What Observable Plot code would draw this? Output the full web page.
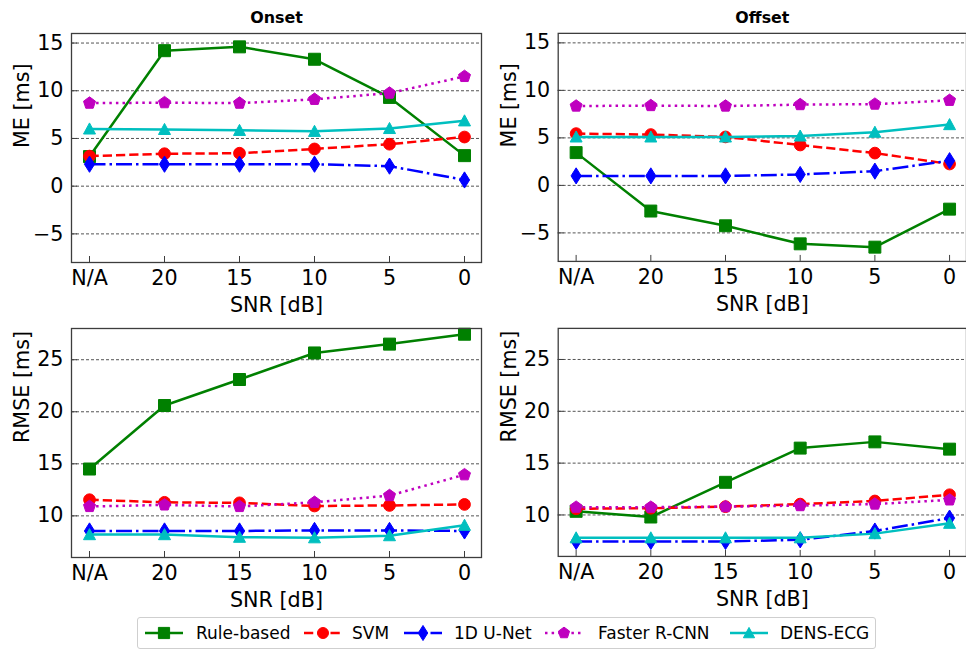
<!DOCTYPE html>
<html><head><meta charset="utf-8">
<script src="https://cdn.jsdelivr.net/npm/d3@7"></script>
<script src="https://cdn.jsdelivr.net/npm/@observablehq/plot@0.6"></script>
<style>
body{margin:0;background:#fff;overflow:hidden;font-family:"DejaVu Sans",sans-serif;}
#root{position:relative;width:966px;height:650px;overflow:hidden;background:#fff;}
.panel{position:absolute;}
#legend{position:absolute;left:137px;top:617px;width:739px;height:32px;border:1px solid #cfcfcf;border-radius:3px;box-sizing:border-box;font-family:"DejaVu Sans",sans-serif;font-size:17px;color:#000;}
#legend .sw{position:absolute;top:5px;}
#legend .tx{position:absolute;top:4px;line-height:22px;white-space:nowrap;}
</style></head>
<body><div id="root"></div>
<script>
// ---- data ----
const snr = ["N/A", "20", "15", "10", "5", "0"];
const methods = ["Rule-based", "SVM", "1D U-Net", "Faster R-CNN", "DENS-ECG"];
// rows follow the order of `methods`, columns follow `snr`
const meOnset = [
  [3.1, 14.2, 14.6, 13.3, 9.3, 3.2],
  [3.15, 3.4, 3.45, 3.9, 4.4, 5.15],
  [2.3, 2.3, 2.3, 2.3, 2.1, 0.65],
  [8.7, 8.75, 8.7, 9.1, 9.75, 11.5],
  [6.0, 5.95, 5.85, 5.75, 6.05, 6.85]
];
const meOffset = [
  [3.45, -2.7, -4.25, -6.15, -6.5, -2.5],
  [5.45, 5.35, 5.1, 4.25, 3.4, 2.25],
  [1.0, 1.0, 1.0, 1.15, 1.5, 2.6],
  [8.35, 8.4, 8.35, 8.5, 8.55, 8.95],
  [5.1, 5.1, 5.1, 5.2, 5.6, 6.4]
];
const rmseOnset = [
  [14.5, 20.6, 23.1, 25.65, 26.5, 27.45],
  [11.55, 11.3, 11.25, 10.95, 11.0, 11.1],
  [8.55, 8.55, 8.55, 8.6, 8.6, 8.55],
  [10.9, 11.05, 10.9, 11.3, 11.95, 13.95],
  [8.2, 8.2, 7.95, 7.9, 8.1, 9.1]
];
const rmseOffset = [
  [10.35, 9.8, 13.15, 16.45, 17.05, 16.35],
  [10.6, 10.65, 10.8, 11.05, 11.35, 11.95],
  [7.45, 7.45, 7.45, 7.6, 8.45, 9.7],
  [10.75, 10.75, 10.8, 10.9, 11.05, 11.45],
  [7.8, 7.8, 7.8, 7.8, 8.2, 9.2]
];
const meTicks = [-5, 0, 5, 10, 15];
const rmseTicks = [10, 15, 20, 25];
const meDomain = [-8, 16];
const rmseDomain = [6, 28];

// ---- marker symbols (sized from r = sqrt(size/pi)) ----
const rOf = size => Math.sqrt(size / Math.PI);
const square = {draw(c, size) { const r = rOf(size); c.rect(-r, -r, 2 * r, 2 * r); }};
const circle = {draw(c, size) { const r = rOf(size) * 0.98; c.moveTo(r, 0); c.arc(0, 0, r, 0, 2 * Math.PI); }};
const thinDiamond = {draw(c, size) { const r = rOf(size); const h = r * 1.35, w = r * 0.85;
  c.moveTo(0, -h); c.lineTo(w, 0); c.lineTo(0, h); c.lineTo(-w, 0); c.closePath(); }};
const pentagon = {draw(c, size) { const r = rOf(size) * 1.05;
  for (let k = 0; k < 5; k++) { const a = -Math.PI / 2 + k * 2 * Math.PI / 5;
    const x = r * Math.cos(a), y = r * Math.sin(a); if (k === 0) c.moveTo(x, y); else c.lineTo(x, y); }
  c.closePath(); }};
const triangle = {draw(c, size) { const r = rOf(size); c.moveTo(0, -r); c.lineTo(r, r * 0.85); c.lineTo(-r, r * 0.85); c.closePath(); }};

const styles = [
  {color: "#008000", dash: undefined, symbol: square},
  {color: "#ff0000", dash: "9.25,4", symbol: circle},
  {color: "#0000ff", dash: "16,4,2.5,4", symbol: thinDiamond},
  {color: "#bf00bf", dash: "2.5,4.1", symbol: pentagon},
  {color: "#00bfbf", dash: undefined, symbol: triangle}
];

const FS = 20.7;
const root = document.getElementById("root");

function panel({values, yDomain, yTicks, title, ylabel, left, top, width, height, mL, mR, mT, mB}) {
  const W = width - mL - mR, H = height - mT - mB;
  const marks = [];
  marks.push(Plot.gridY(yTicks, {stroke: "#000", strokeOpacity: 0.85, strokeWidth: 0.8, strokeDasharray: "3,2"}));
  values.forEach((vals, i) => {
    const data = snr.map((s, j) => ({snr: s, v: vals[j], method: methods[i]}));
    const st = styles[i];
    marks.push(Plot.line(data, {x: "snr", y: "v", stroke: st.color, strokeWidth: 2.5,
      strokeDasharray: st.dash, strokeLinejoin: "round", strokeLinecap: "butt"}));
    marks.push(Plot.dot(data, {x: "snr", y: "v", symbol: st.symbol, r: 6,
      fill: st.color, stroke: st.color, strokeWidth: 1}));
  });
  marks.push(Plot.frame({stroke: "#3d3d3d", strokeWidth: 1.3}));
  marks.push(Plot.tickX(snr, {x: d => d, stroke: "#3d3d3d", strokeWidth: 1, insetTop: H - 6}));
  marks.push(Plot.tickY(yTicks, {y: d => d, stroke: "#3d3d3d", strokeWidth: 1, insetRight: W - 6}));
  marks.push(Plot.axisX({tickSize: 0, tickPadding: 8, fontSize: FS, label: null}));
  marks.push(Plot.axisY(yTicks, {tickSize: 0, tickPadding: 8, fontSize: FS, label: null, tickFormat: d3.format("d")}));
  if (title) marks.push(Plot.text([title], {text: d => d, frameAnchor: "top", dy: -15.4,
    fontWeight: "bold", fontSize: 15.9, lineAnchor: "middle"}));
  marks.push(Plot.text(["SNR [dB]"], {text: d => d, frameAnchor: "bottom", dy: 43,
    fontSize: FS, lineAnchor: "middle"}));
  marks.push(Plot.text([ylabel], {text: d => d, frameAnchor: "left", dx: -49,
    rotate: -90, fontSize: FS, lineAnchor: "middle"}));

  const svg = Plot.plot({
    width, height, marginLeft: mL, marginRight: mR, marginTop: mT, marginBottom: mB,
    style: {fontFamily: "DejaVu Sans", fontSize: FS + "px", background: "transparent", overflow: "visible", color: "#000"},
    x: {type: "point", domain: snr, padding: 0.2},
    y: {domain: yDomain},
    marks
  });
  const div = document.createElement("div");
  div.className = "panel";
  div.style.left = left + "px";
  div.style.top = top + "px";
  div.appendChild(svg);
  root.appendChild(div);
}

panel({values: meOnset, yDomain: meDomain, yTicks: meTicks, title: "Onset", ylabel: "ME [ms]",
  left: 0, top: 0, width: 483, height: 300, mL: 71, mR: 2, mT: 33, mB: 38});
panel({values: meOffset, yDomain: meDomain, yTicks: meTicks, title: "Offset", ylabel: "ME [ms]",
  left: 486, top: 0, width: 482, height: 300, mL: 72, mR: 0, mT: 33, mB: 38});
panel({values: rmseOnset, yDomain: rmseDomain, yTicks: rmseTicks, title: null, ylabel: "RMSE [ms]",
  left: 0, top: 300, width: 483, height: 310, mL: 71, mR: 2, mT: 28, mB: 53});
panel({values: rmseOffset, yDomain: rmseDomain, yTicks: rmseTicks, title: null, ylabel: "RMSE [ms]",
  left: 486, top: 300, width: 482, height: 310, mL: 72, mR: 0, mT: 28, mB: 53});

// ---- legend ----
const legendSwatchX = [6, 165, 265, 406, 591];
const legendTextX = [58, 214, 316, 460, 642];
const legend = document.createElement("div");
legend.id = "legend";
methods.forEach((m, i) => {
  const st = styles[i];
  const svg = d3.create("svg").attr("class", "sw").attr("width", 40).attr("height", 20)
    .style("left", legendSwatchX[i] + "px");
  svg.append("line").attr("x1", 1).attr("x2", 39).attr("y1", 10).attr("y2", 10)
    .attr("stroke", st.color).attr("stroke-width", 2.5)
    .attr("stroke-dasharray", st.dash || null);
  svg.append("path").attr("transform", "translate(20,10)")
    .attr("d", d3.symbol(st.symbol, Math.PI * 5.6 * 5.6)())
    .attr("fill", st.color).attr("stroke", st.color).attr("stroke-width", 1);
  legend.appendChild(svg.node());
  const t = document.createElement("span");
  t.className = "tx";
  t.style.left = legendTextX[i] + "px";
  t.textContent = m;
  legend.appendChild(t);
});
root.appendChild(legend);
</script>
</body></html>
